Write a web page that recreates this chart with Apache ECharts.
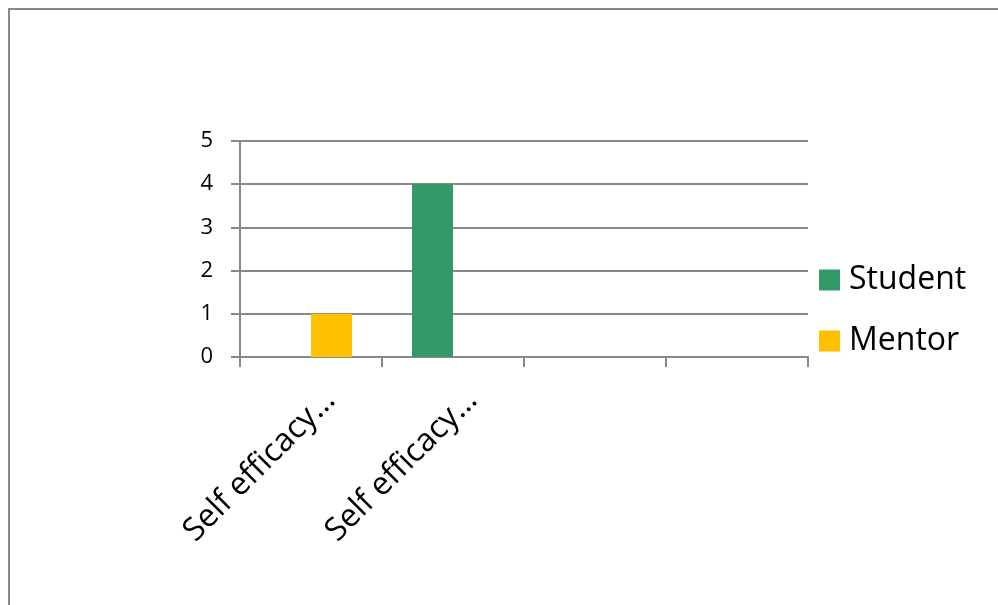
<!DOCTYPE html>
<html>
<head>
<meta charset="utf-8">
<script src="https://cdn.jsdelivr.net/npm/echarts@6/dist/echarts.min.js"></script>
<style>
html,body{margin:0;padding:0;background:#fff;}
#chart{width:998px;height:605px;}
</style>
</head>
<body>
<div id="chart"></div>
<script>
const categories = ["Self efficacy\u2026", "Self efficacy\u2026", "", ""];
const studentValues = [0, 4, null, null];
const mentorValues = [1, 0, null, null];
const yTicks = { min: 0, max: 5, interval: 1 };

const FONT = "Open Sans";
const GRAY = "#898989";

const chart = echarts.init(document.getElementById('chart'));
chart.setOption({
  backgroundColor: '#ffffff',
  animation: false,
  textStyle: { fontFamily: FONT, color: '#000' },
  graphic: [
    { type: 'line', shape: { x1: 8, y1: 9, x2: 998, y2: 9 }, style: { stroke: GRAY, lineWidth: 2 } },
    { type: 'line', shape: { x1: 9, y1: 9, x2: 9, y2: 605 }, style: { stroke: GRAY, lineWidth: 2 } }
  ],
  grid: { left: 240, right: 190, top: 141, bottom: 248, containLabel: false },
  legend: {
    orient: 'vertical',
    left: 819,
    top: 264,
    padding: 0,
    itemWidth: 21,
    itemHeight: 21,
    itemGap: 29,
    icon: 'rect',
    data: ['Student', 'Mentor'],
    textStyle: { fontFamily: FONT, fontSize: 32, color: '#000', padding: [0, 0, 0, 4] }
  },
  xAxis: {
    type: 'category',
    data: categories,
    axisLine: { lineStyle: { color: GRAY, width: 2 } },
    axisTick: { show: true, length: 10, alignWithLabel: false, lineStyle: { color: GRAY, width: 2 } },
    axisLabel: {
      interval: 0,
      rotate: 45,
      margin: 19,
      fontFamily: FONT,
      fontSize: 32,
      color: '#000',
      verticalAlign: 'top',
      lineHeight: 54
    }
  },
  yAxis: {
    type: 'value',
    min: yTicks.min,
    max: yTicks.max,
    interval: yTicks.interval,
    axisLine: { show: true, lineStyle: { color: GRAY, width: 2 } },
    axisTick: { show: true, length: 9, lineStyle: { color: GRAY, width: 2 } },
    axisLabel: { margin: 27, fontFamily: FONT, fontSize: 22, color: '#000' },
    splitLine: { show: true, lineStyle: { color: GRAY, width: 2 } }
  },
  series: [
    { name: 'Student', type: 'bar', data: studentValues, barWidth: 41, barGap: '0%', itemStyle: { color: '#339966' } },
    { name: 'Mentor', type: 'bar', data: mentorValues, barWidth: 41, barGap: '0%', itemStyle: { color: '#FFC000' } }
  ]
});
</script>
</body>
</html>
